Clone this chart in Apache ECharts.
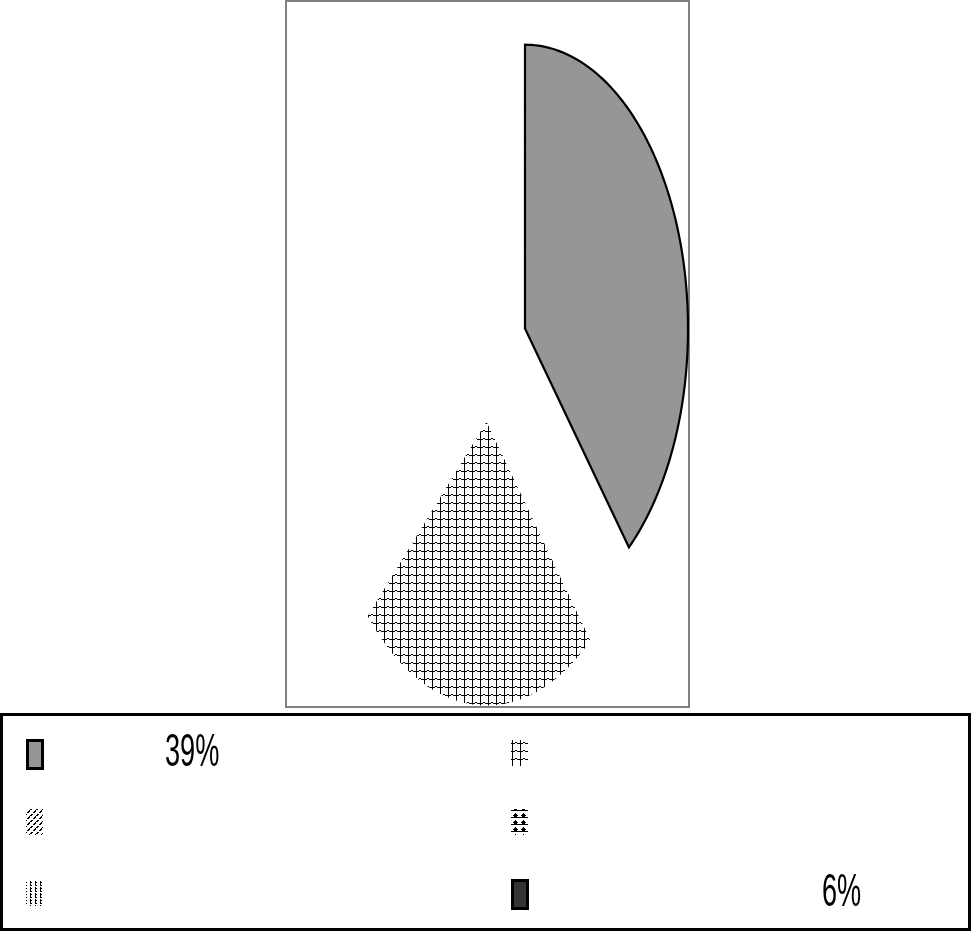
<!DOCTYPE html>
<html><head><meta charset="utf-8">
<script src="https://cdn.jsdelivr.net/npm/echarts/dist/echarts.min.js"></script>
<style>html,body{margin:0;padding:0;background:#fff}#c{width:972px;height:934px}</style>
</head><body><div id="c"></div>
<script>
// ---- data ----
const sliceNames = ['S1', 'S2', 'S3', 'S4', 'S5', 'S6'];
const sliceValues = [39, 24, 12, 10, 9, 6];
const legendLabels = ['39%', '', '', '', '', '6%'];

// ---- styles ----
const sliceKinds = ['solidLight', 'hash', 'diag', 'tree', 'vbar', 'solidDark'];
const sliceVisible = [true, true, false, false, false, false];
const explode = [[0, 0], [-0.236, -0.328], [0, 0], [0, 0], [0, 0], [0, 0]];

function makePattern(kind) {
  const c = document.createElement('canvas');
  const g = c.getContext('2d');
  const px = (x, y, w, h) => g.fillRect(x, y, w || 1, h || 1);
  if (kind === 'hash') {
    c.width = 8; c.height = 8; g.fillStyle = '#000';
    px(0, 0, 1, 8); px(1, 7, 2, 1); px(3, 6, 2, 1); px(5, 7, 3, 1);
  } else if (kind === 'diag') {
    c.width = 6; c.height = 6; g.fillStyle = '#000';
    for (let i = 0; i < 6; i++) { if (i !== 2) px(i, 5 - i, 2, 1); }
  } else if (kind === 'tree') {
    c.width = 8; c.height = 7; g.fillStyle = '#000';
    px(3, 1, 1, 1); px(2, 2, 3, 1); px(1, 3, 5, 1); px(2, 4, 3, 1); px(0, 5, 8, 1);
  } else if (kind === 'vbar') {
    c.width = 5; c.height = 6; g.fillStyle = '#000';
    px(0, 0, 1, 4); px(0, 5, 1, 1); px(1, 0, 1, 1); px(1, 3, 1, 1);
  }
  return { image: c, repeat: 'repeat' };
}
function fillFor(kind) {
  if (kind === 'solidLight') return '#969696';
  if (kind === 'solidDark') return '#333333';
  return makePattern(kind);
}

const total = sliceValues.reduce((a, b) => a + b, 0);
let acc = 0;
const sliceData = sliceValues.map((v, i) => {
  const s = acc / total; acc += v;
  return { name: sliceNames[i], value: [s, acc / total, i] };
});

function renderSlice(params, api) {
  const i = params.dataIndex;
  if (!sliceVisible[i]) return null;
  const s = api.value(0) * Math.PI * 2, e = api.value(1) * Math.PI * 2;
  const ox = explode[i][0], oy = explode[i][1];
  const pts = [api.coord([ox, oy])];
  const N = 120;
  for (let k = 0; k <= N; k++) {
    const t = s + (e - s) * k / N;
    pts.push(api.coord([ox + Math.sin(t), oy + Math.cos(t)]));
  }
  const kind = sliceKinds[i];
  const solid = kind.indexOf('solid') === 0;
  return {
    type: 'polygon',
    shape: { points: pts },
    style: { fill: fillFor(kind), stroke: solid ? '#000' : null, lineWidth: solid ? 2.2 : 0, lineJoin: 'miter' }
  };
}

// ---- legend (graphic) ----
const legendCols = [26, 511];
const legendRows = [739, 808, 879];
const labelX = [165, 822];
const graphics = [{
  type: 'rect', shape: { x: 1.5, y: 714.5, width: 968, height: 215 },
  style: { fill: null, stroke: '#000', lineWidth: 3 }
}];
sliceNames.forEach((n, i) => {
  const cx = legendCols[i % 2], ry = legendRows[Math.floor(i / 2)];
  const kind = sliceKinds[i];
  if (kind.indexOf('solid') === 0) {
    graphics.push({ type: 'rect', shape: { x: cx + 1.5, y: ry + 1.5, width: 15, height: 28 },
      style: { fill: fillFor(kind), stroke: '#000', lineWidth: 3 } });
  } else {
    graphics.push({ type: 'rect', shape: { x: cx, y: ry + 1, width: 17, height: 26 },
      style: { fill: fillFor(kind) } });
  }
  if (legendLabels[i]) {
    graphics.push({ type: 'text', x: labelX[i % 2], y: ry + 14, scaleX: 0.59,
      style: { text: legendLabels[i], fontFamily: '"Liberation Sans Narrow", "Liberation Sans", Arial, sans-serif',
        fontSize: 46, fill: '#000', verticalAlign: 'middle', align: 'left' } });
  }
});

const chart = echarts.init(document.getElementById('c'), null, { renderer: 'canvas' });
chart.setOption({
  animation: false,
  backgroundColor: '#fff',
  grid: { left: 286, top: 1, width: 403, height: 706, show: true, borderColor: '#808080', borderWidth: 2, backgroundColor: 'transparent' },
  xAxis: { type: 'value', min: -1.466, max: 1.006, show: false },
  yAxis: { type: 'value', min: -1.333, max: 1.154, show: false },
  series: [{
    type: 'custom', clip: true, renderItem: renderSlice, data: sliceData
  }],
  graphic: graphics
});
</script>
</body></html>
